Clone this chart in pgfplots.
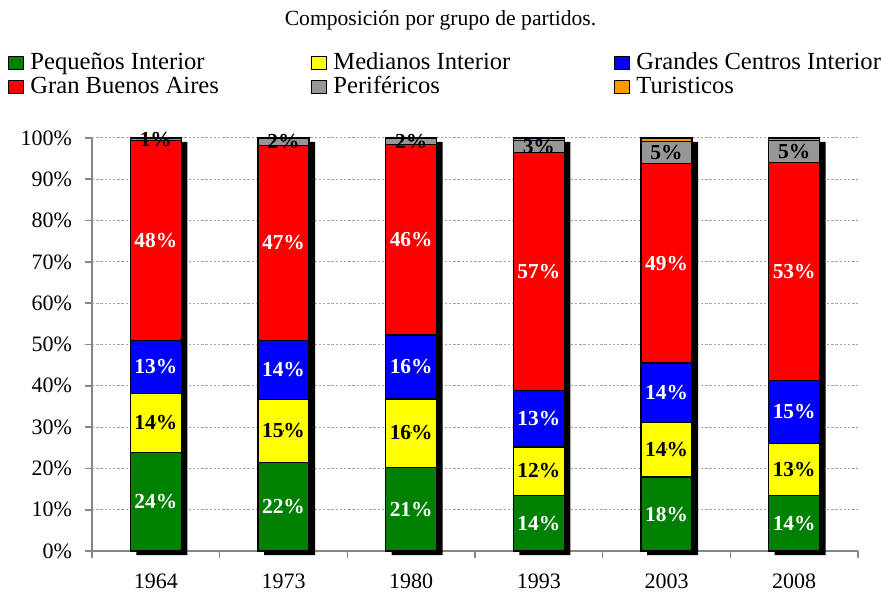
\documentclass[border=0pt]{standalone}
\usepackage{pgfplots}
\pgfplotsset{compat=1.18}
\usepackage{pgfplotstable}
\usepackage{fontspec}
\setmainfont{Liberation Serif}

\definecolor{cG}{RGB}{0,128,0}
\definecolor{cY}{RGB}{255,255,0}
\definecolor{cB}{RGB}{0,0,255}
\definecolor{cR}{RGB}{255,0,0}
\definecolor{cP}{RGB}{150,150,150}
\definecolor{cT}{RGB}{255,153,0}
\definecolor{axgray}{RGB}{134,134,134}
\definecolor{gridgray}{RGB}{165,165,165}

% shares per group (percent)
\pgfplotstableread{
x G Y B R P T
1 23.8 14.3 12.9 48.3 0.7 0
2 21.5 15.2 14.3 47.2 1.8 0
3 20.3 16.5 15.5 46.2 1.5 0
4 13.5 11.7 13.7 57.6 2.9 0.6
5 17.9 13.3 14.3 48.4 5.2 0.9
6 13.5 12.6 15.2 52.7 5.3 0.7
}\shares

% label positions (segment middles) and label texts
\pgfplotstableread{
x gm gl ym yl bm bl rm rl pm pl
1 11.9  24 31.0  14 44.6 13 75.2 48 99.65 1
2 10.75 22 29.1  15 43.9 14 74.6 47 99.1  2
3 10.15 21 28.6  16 44.6 16 75.4 46 99.25 2
4 6.75  14 19.4  12 32.1 13 67.7 57 97.95 3
5 8.95  18 24.6  14 38.4 14 69.7 49 96.5  5
6 6.75  14 19.8  13 33.7 15 67.7 53 96.65 5
}\labs

\pgfplotsset{
  base/.style={width=383pt, height=206.5pt, scale only axis,
    xmin=0.5, xmax=6.5, ymin=0, ymax=100},
  lab/.style={only marks, mark=*, mark size=0.1pt,
    mark options={draw=none, fill=none},
    nodes near coords={\pgfplotspointmeta\%},
    point meta=explicit symbolic,
    nodes near coords style={anchor=center, inner sep=0pt, text=#1,
      font=\bfseries\fontsize{10.7}{12}\selectfont}},
}

\begin{document}
\begin{tikzpicture}
\begin{axis}[base, name=ax, clip=false,
  axis x line*=bottom, axis y line*=left,
  axis line style={axgray, line width=0.8pt},
  tick align=outside,
  major tick length=3.5pt, minor tick length=3.5pt,
  every tick/.style={axgray, line width=0.8pt},
  major x tick style={draw=none},
  ytick={0,10,...,100},
  yticklabels={0\%,10\%,20\%,30\%,40\%,50\%,60\%,70\%,80\%,90\%,100\%},
  xtick={1,...,6},
  xticklabels={1964,1973,1980,1993,2003,2008},
  minor xtick={0.5,1.5,...,6.5},
  ticklabel style={font=\fontsize{11}{13}\selectfont},
  yticklabel style={xshift=-3pt},
  xticklabel style={yshift=-4.5pt},
  ymajorgrids,
  major grid style={gridgray, dash pattern=on 1.2pt off 0.9pt, line width=0.5pt},
  legend columns=3,
  legend cell align=left,
  legend style={draw=none, fill=none, at={(0,0)}, anchor=north west,
    xshift=-42pt, yshift=250.3pt, inner sep=0pt, row sep=-0.25pt,
    column sep=0pt, nodes={inner sep=1pt},
    font=\fontsize{12.3}{14}\selectfont},
  legend image code/.code={\draw[#1, draw=black, line width=0.5pt]
    (0pt,-3.25pt) rectangle (7.5pt,3.25pt);},
]
% drop shadow of the bars
\addplot[ybar, bar width=25.5pt, bar shift=3pt, fill=black, draw=none,
  yshift=-2pt, forget plot] table[x=x, y expr=100] {\shares};
\addlegendimage{fill=cG}
\addlegendentry{\makebox[141.5pt][l]{\hspace{2pt}Pequeños Interior}}
\addlegendimage{fill=cY}
\addlegendentry{\makebox[141.5pt][l]{\hspace{2pt}Medianos Interior}}
\addlegendimage{fill=cB}
\addlegendentry{\makebox[141.5pt][l]{\hspace{2pt}Grandes Centros Interior}}
\addlegendimage{fill=cR}
\addlegendentry{\makebox[141.5pt][l]{\hspace{2pt}Gran Buenos Aires}}
\addlegendimage{fill=cP}
\addlegendentry{\makebox[141.5pt][l]{\hspace{2pt}Periféricos}}
\addlegendimage{fill=cT}
\addlegendentry{\makebox[141.5pt][l]{\hspace{2pt}Turisticos}}
\end{axis}

\begin{axis}[base, hide axis, ybar stacked, bar width=25.5pt]
\addplot[fill=cG, draw=black, line width=0.6pt] table[x=x, y=G] {\shares};
\addplot[fill=cY, draw=black, line width=0.6pt] table[x=x, y=Y] {\shares};
\addplot[fill=cB, draw=black, line width=0.6pt] table[x=x, y=B] {\shares};
\addplot[fill=cR, draw=black, line width=0.6pt] table[x=x, y=R] {\shares};
\addplot[fill=cP, draw=black, line width=0.6pt] table[x=x, y=P] {\shares};
\addplot[fill=cT, draw=black, line width=0.6pt] table[x=x, y=T] {\shares};
\end{axis}

\begin{axis}[base, hide axis, clip=false]
\addplot[lab=white] table[x=x, y=gm, meta=gl] {\labs};
\addplot[lab=black] table[x=x, y=ym, meta=yl] {\labs};
\addplot[lab=white] table[x=x, y=bm, meta=bl] {\labs};
\addplot[lab=white] table[x=x, y=rm, meta=rl] {\labs};
\addplot[lab=black] table[x=x, y=pm, meta=pl] {\labs};
\end{axis}

\node[font=\fontsize{10.8}{13}\selectfont]
  at ([shift={(174.25pt,265.5pt)}]ax.south west)
  {Composición por grupo de partidos.};

\pgfresetboundingbox
\path ([shift={(-46pt,-24pt)}]ax.south west) rectangle ++(440.5pt,299.5pt);
\end{tikzpicture}
\end{document}
